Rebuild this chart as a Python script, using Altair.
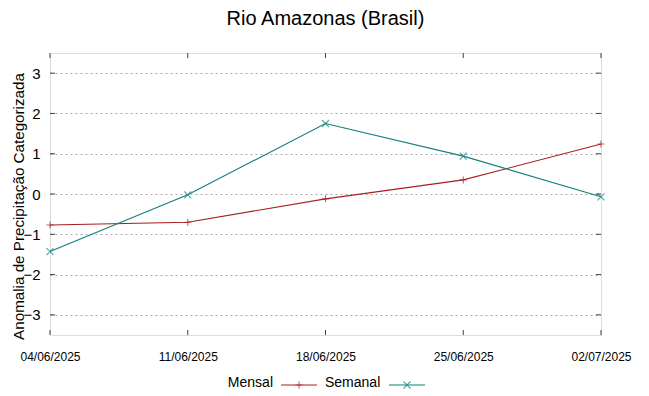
import altair as alt
import pandas as pd

dates = ["2025-06-04", "2025-06-11", "2025-06-18", "2025-06-25", "2025-07-02"]
mensal = [-0.77, -0.70, -0.12, 0.35, 1.24]
semanal = [-1.43, -0.02, 1.75, 0.94, -0.07]
series_names = ["Mensal", "Semanal"]
colors = ["#a81e1e", "#0f7f7f"]
shapes = ["M-1,0L1,0M0,-1L0,1", "M-1,-1L1,1M-1,1L1,-1"]
y_ticks = [-3, -2, -1, 0, 1, 2, 3]
title = "Rio Amazonas (Brasil)"
y_title = "Anomalia de Precipitação Categorizada"

W, H = 551, 282
FONT = "Liberation Sans"

rows = []
for d, m, s in zip(dates, mensal, semanal):
    rows.append({"date": d, "serie": "Mensal", "v": m})
    rows.append({"date": d, "serie": "Semanal", "v": s})
df = pd.DataFrame(rows)

xscale = alt.Scale(type="utc", domain=[alt.DateTime(year=2025, month=6, date=4, utc=True),
                                       alt.DateTime(year=2025, month=7, date=2, utc=True)])
yscale = alt.Scale(domain=[-3.5, 3.5], nice=False, zero=False)
cscale = alt.Scale(domain=series_names, range=colors)
sscale = alt.Scale(domain=series_names, range=shapes)

xvals = [alt.DateTime(year=int(d[:4]), month=int(d[5:7]), date=int(d[8:]), utc=True) for d in dates]

X = alt.X("date:T", scale=xscale, title=None,
          axis=alt.Axis(values=xvals, labelExpr="utcFormat(datum.value, '%d/%m/%Y')",
                        grid=False, ticks=False, domain=False, labelFont=FONT,
                        labelFontSize=12, labelColor="#000", labelPadding=16,
                        labelBaseline="top", labelAlign="center", labelOverlap=False,
                        labelFlush=False))
Y = alt.Y("v:Q", scale=yscale, title=y_title,
          axis=alt.Axis(values=y_ticks, grid=True, gridDash=[2, 3], gridColor="#a8a8a8",
                        gridWidth=1, ticks=False, domain=False, labelFont=FONT,
                        labelFontSize=15, labelColor="#000", labelPadding=10,
                        titleFont=FONT, titleFontSize=15.2, titleFontWeight="normal",
                        titleColor="#000", titleX=-32, titleY=153, titleAngle=270,
                        titleAlign="center", titleBaseline="middle"))

base = alt.Chart(df)
lines = base.mark_line(strokeWidth=1.1).encode(
    x=X, y=Y,
    color=alt.Color("serie:N", scale=cscale, legend=None),
    detail="serie:N")
points = base.mark_point(filled=False, strokeWidth=1.1, size=49).encode(
    x=alt.X("date:T", scale=xscale), y=alt.Y("v:Q", scale=yscale),
    color=alt.Color("serie:N", scale=cscale, legend=None),
    shape=alt.Shape("serie:N", scale=sscale, legend=None))

ytdf = pd.DataFrame({"t": y_ticks})
xtdf = pd.DataFrame({"d": dates})
tick_col = "#404040"
lt = alt.Chart(ytdf).mark_rule(color=tick_col).encode(
    y=alt.Y("t:Q", scale=yscale), x=alt.value(0), x2=alt.value(5))
rt = alt.Chart(ytdf).mark_rule(color=tick_col).encode(
    y=alt.Y("t:Q", scale=yscale), x=alt.value(W - 5), x2=alt.value(W))
bt = alt.Chart(xtdf).mark_rule(color=tick_col).encode(
    x=alt.X("d:T", scale=xscale), y=alt.value(H), y2=alt.value(H - 5))
tt = alt.Chart(xtdf).mark_rule(color=tick_col).encode(
    x=alt.X("d:T", scale=xscale), y=alt.value(0), y2=alt.value(5))

# title as text
tdf = pd.DataFrame({"t": [title]})
title_mark = alt.Chart(tdf).mark_text(align="center", baseline="alphabetic", font=FONT,
                                      fontSize=20, color="#000").encode(
    text="t:N", x=alt.value(W / 2), y=alt.value(-28))

# legend (below the plot)
leg_y = 330
ldf = pd.DataFrame({"serie": series_names})
leg = []
text_right = [223, None]
text_left = [None, 275]
line_x = [(231, 267), (339, 375)]
for i, name in enumerate(series_names):
    sub = ldf[ldf.serie == name]
    if text_right[i] is not None:
        leg.append(alt.Chart(sub).mark_text(align="right", baseline="middle", font=FONT,
                                            fontSize=14, color="#000").encode(
            text="serie:N", x=alt.value(text_right[i]), y=alt.value(leg_y)))
    else:
        leg.append(alt.Chart(sub).mark_text(align="left", baseline="middle", font=FONT,
                                            fontSize=14, color="#000").encode(
            text="serie:N", x=alt.value(text_left[i]), y=alt.value(leg_y)))
    x0, x1 = line_x[i]
    leg.append(alt.Chart(sub).mark_rule(strokeWidth=1.1).encode(
        color=alt.Color("serie:N", scale=cscale, legend=None),
        x=alt.value(x0), x2=alt.value(x1), y=alt.value(leg_y + 2)))
    leg.append(alt.Chart(sub).mark_point(filled=False, strokeWidth=1.1, size=49).encode(
        color=alt.Color("serie:N", scale=cscale, legend=None),
        shape=alt.Shape("serie:N", scale=sscale, legend=None),
        x=alt.value((x0 + x1) / 2), y=alt.value(leg_y + 2)))

chart = alt.layer(lines, points, lt, rt, bt, tt, title_mark, *leg).properties(
    width=W, height=H,
    autosize=alt.AutoSizeParams(type="none"),
    padding={"left": 42, "top": 45, "right": 40, "bottom": 56},
).configure_view(stroke="#404040", strokeWidth=1).configure(background="white")

chart.save("out.html", embed_options={"renderer": "svg", "actions": False})
